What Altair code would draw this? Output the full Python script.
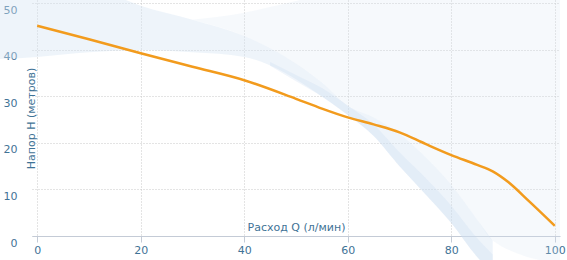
import altair as alt
import pandas as pd

# Pump curve (orange line)
flow = [0, 10, 20, 30, 40, 50, 55, 60, 65, 70, 75, 80, 85, 88, 91, 95, 100]
head = [45.2, 42.3, 39.3, 36.4, 33.5, 29.5, 27.4, 25.5, 24.0, 22.3, 19.8, 17.4, 15.3, 13.9, 11.6, 7.5, 2.2]

# Decorative background fan (dense band)
band_x = [-8, 0, 10, 20, 30, 40, 48, 55, 60, 65, 70, 75, 80, 85, 88]
band_lo = [38, 38.5, 39.5, 40, 39.5, 38.5, 35, 30, 26, 21.5, 15, 9, 2.8, -4.5, -8]
band_hi = [56, 56, 54, 49.5, 46.5, 43, 38.5, 33, 28, 25.5, 22, 17, 11, 3.5, -1]

# Slightly darker strip along the lower edge of the fan
strip_x = [45, 50, 55, 60, 65, 70, 75, 80, 85, 88]
strip_lo = [36.6, 33.3, 30, 26, 21.5, 15, 9, 2.8, -4.5, -8]
strip_hi = [37.4, 34.6, 31.8, 28, 24, 18, 12.5, 6.5, -0.5, -4]

# Faint part of the fan (upper right)
faint_x = [30, 40, 48, 55, 60, 65, 70, 75, 80, 85, 88, 101]
faint_lo = [46.5, 43, 38.5, 33, 28, 25.5, 22, 17, 11, 3.5, -1, -6]
faint_hi = [46.5, 48, 50, 51.5, 51.5, 51.5, 51.5, 51.5, 51.5, 51.5, 51.5, 51.5]

x_ticks = [0, 20, 40, 60, 80, 100]
y_ticks = [0, 10, 20, 30, 40, 50]

line_df = pd.DataFrame({"q": flow, "h": head})
band_df = pd.DataFrame({"q": band_x, "lo": band_lo, "hi": band_hi})
strip_df = pd.DataFrame({"q": strip_x, "lo": strip_lo, "hi": strip_hi})
faint_df = pd.DataFrame({"q": faint_x, "lo": faint_lo, "hi": faint_hi})

LBL = "#3f7396"
FONT = "DejaVu Sans"

xscale = alt.Scale(domain=[-1, 101], nice=False, zero=False)
yscale = alt.Scale(domain=[0, 50.75], nice=False, zero=False)

x_axis = alt.Axis(
    values=x_ticks, title="Расход Q (л/мин)", titleX=264, titleY=-9,
    titleAlign="center", titleBaseline="middle", titleFont=FONT, titleFontSize=11,
    titleFontWeight="normal", titleColor=LBL,
    labelFont=FONT, labelFontSize=11, labelColor=LBL, labelPadding=2,
    tickSize=6, tickColor="#c4cbd6", domainColor="#c4cbd6",
    grid=True, gridDash=[1, 2], gridColor="#c9c9c9", labelFlush=False,
)
y_axis = alt.Axis(
    values=y_ticks, title="Напор H (метров)", titleAngle=270, titleX=-1, titleY=118,
    titleAlign="center", titleBaseline="middle", titleFont=FONT, titleFontSize=11,
    titleFontWeight="normal", titleColor=LBL,
    labelFont=FONT, labelFontSize=11, labelColor=LBL, labelPadding=15, labelOffset=7,
    ticks=False, domain=False, labelFlush=False,
    grid=True, gridDash=[1, 2], gridColor="#c9c9c9",
)

def area(df, color, opacity):
    return alt.Chart(df).mark_area(color=color, opacity=opacity, interpolate="monotone").encode(
        x=alt.X("q:Q", scale=xscale, axis=x_axis),
        y=alt.Y("lo:Q", scale=yscale, axis=y_axis),
        y2="hi:Q",
    )

faint = area(faint_df, "#d6e4f2", 0.22)
band = area(band_df, "#d6e4f2", 0.42)
strip = area(strip_df, "#c3d7ee", 0.25)

line = alt.Chart(line_df).mark_line(color="#f29b1d", strokeWidth=2.5, interpolate="monotone").encode(
    x=alt.X("q:Q", scale=xscale, axis=x_axis),
    y=alt.Y("h:Q", scale=yscale, axis=y_axis),
)

chart = alt.layer(faint, band, strip, line).properties(
    width=528, height=236,
    padding={"left": 32, "top": 0, "right": 7, "bottom": 24},
    autosize=alt.AutoSizeParams(type="none"),
).configure_view(strokeWidth=0)

chart.save("out.html", embed_options={"renderer": "svg", "actions": False})
